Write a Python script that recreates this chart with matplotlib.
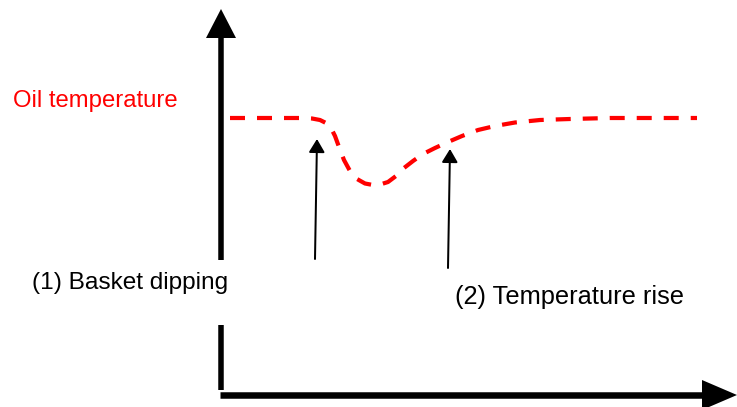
import matplotlib
matplotlib.use("Agg")
import matplotlib.pyplot as plt
import numpy as np

plt.rcParams['font.family'] = ['Liberation Sans', 'DejaVu Sans']
plt.rcParams['lines.scale_dashes'] = False

W, H = 737, 407

# Oil temperature curve (schematic; x = time, y = temperature, arbitrary units)
time = [230, 300, 312, 320, 326, 331, 335, 339, 344, 350, 357, 365, 373, 380,
        388, 396, 404, 413, 423, 435, 448, 462, 478, 495, 515, 540, 570, 610, 660, 697]
temp_px = [118, 118, 118.5, 120, 123, 128, 136, 147, 160, 171, 179, 183.5, 185, 184.5,
           182, 176, 168, 161, 154, 148, 142, 136, 130, 126, 122.5, 120, 119, 118, 118, 118]
temp = [H - v for v in temp_px]

# Annotation arrows: (x_tail, y_tail, x_head, y_head) in the same units
event_labels = ["(1) Basket dipping", "(2) Temperature rise"]
event_arrow_tail = [(315, H - 259), (448, H - 268)]
event_arrow_head = [(317, H - 139), (450, H - 149)]
event_text_pos = [(32, H - 283), (455, H - 297)]
event_font = [17.6, 18.3]

series_label = "Oil temperature"
series_label_pos = (13, H - 101)

fig = plt.figure(figsize=(W / 100, H / 100), dpi=100)
ax = fig.add_axes([0, 0, 1, 1])
ax.set_xlim(0, W)
ax.set_ylim(0, H)
ax.axis('off')

px = 72 / 100  # points per pixel

# Axes (thick black arrows)
ax.plot([221, 221], [H - 38, H - 260], color='black', lw=5.5 * px, solid_capstyle='butt')
ax.plot([221, 221], [H - 325, H - 390], color='black', lw=5.5 * px, solid_capstyle='butt')
ax.fill([206, 236, 221], [H - 38, H - 38, H - 9], color='black', lw=0)
ax.plot([220, 704], [H - 395, H - 395], color='black', lw=6.5 * px, solid_capstyle='butt')
ax.fill([702, 702, 737], [H - 380, H - 410, H - 395], color='black', lw=0)

# Curve
ax.plot(time, temp, color='#ff0000', lw=4.2 * px, linestyle=(0, (15 * px, 12 * px)),
        dash_capstyle='butt')

# Event arrows
for (xt, yt), (xh, yh) in zip(event_arrow_tail, event_arrow_head):
    ax.annotate('', xy=(xh, yh), xytext=(xt, yt),
                arrowprops=dict(arrowstyle='-|>,head_length=0.5,head_width=0.3',
                                color='black', lw=2 * px,
                                mutation_scale=16, shrinkA=0, shrinkB=0))

for lab, (x, y), fs in zip(event_labels, event_text_pos, event_font):
    ax.text(x, y, lab, fontsize=fs, color='black', ha='left', va='center')

ax.text(series_label_pos[0], series_label_pos[1], series_label, fontsize=17.2,
        color='#ff0000', ha='left', va='center')

fig.savefig('out.png', dpi=100)
